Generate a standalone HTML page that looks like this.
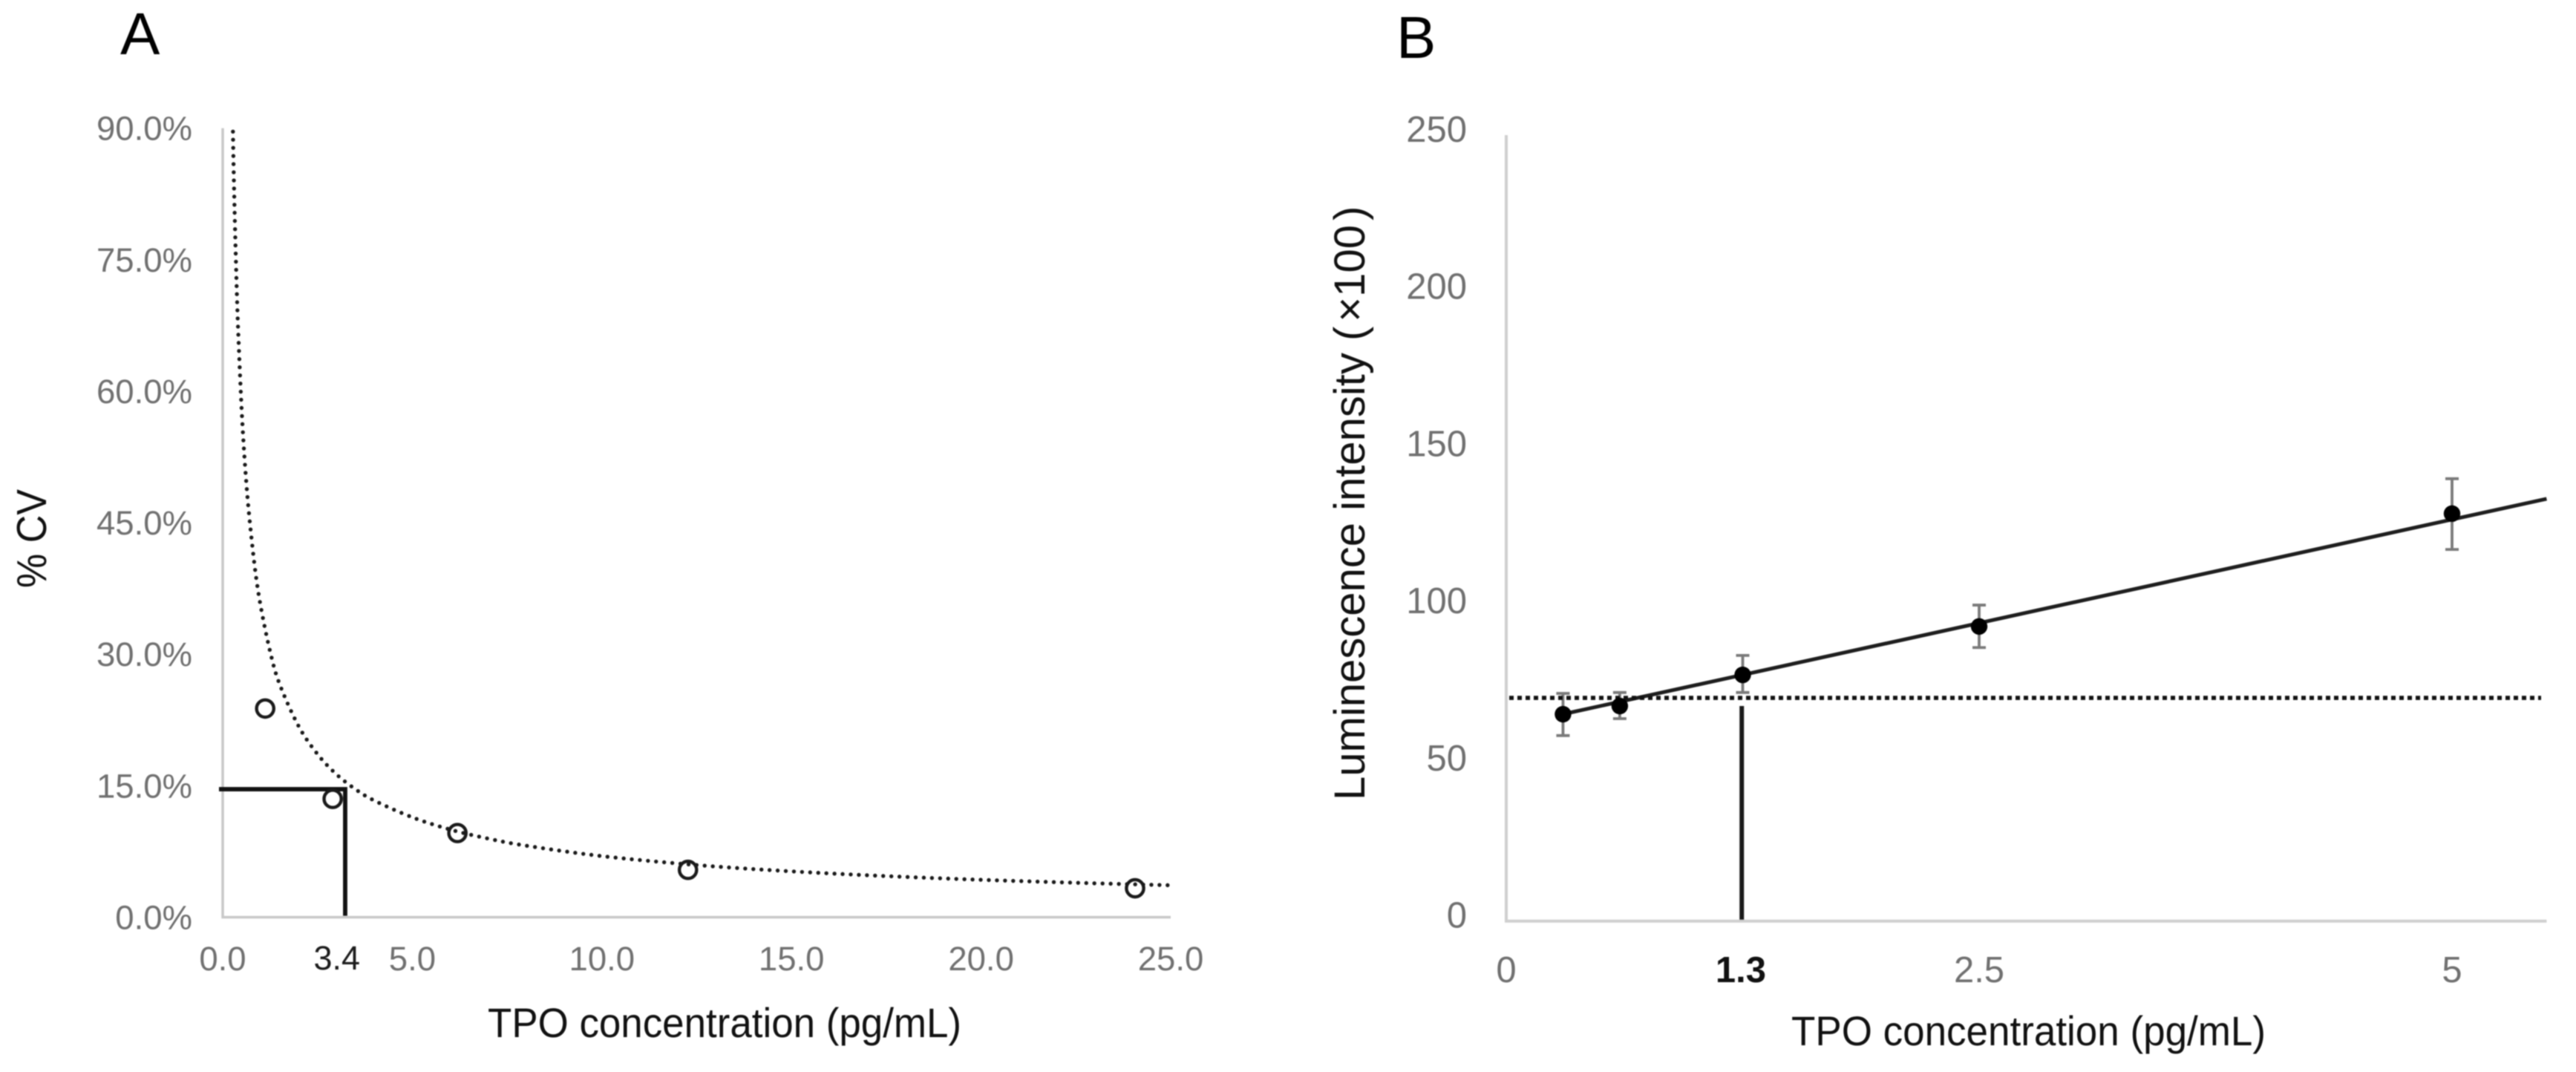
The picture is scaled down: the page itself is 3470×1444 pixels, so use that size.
<!DOCTYPE html>
<html lang="en">
<head>
<meta charset="utf-8">
<title>TPO concentration charts</title>
<style>
html,body{margin:0;padding:0;background:#fff;width:3470px;height:1444px;overflow:hidden}
svg{display:block;filter:blur(.8px)}
text{font-family:"Liberation Sans",sans-serif}
</style>
</head>
<body>
<svg id="figure" xmlns="http://www.w3.org/2000/svg" width="3470" height="1444" viewBox="0 0 3470 1444">
  <rect x="0" y="0" width="3470" height="1444" fill="#fff"/>
  <g id="panel-a">
    <text x="162" y="73" font-size="80" fill="#000">A</text>
    <text transform="translate(62 792) rotate(-90)" font-size="57" textLength="133" lengthAdjust="spacingAndGlyphs" fill="#111">% CV</text>
    <text x="657" y="1397" font-size="56" textLength="638" lengthAdjust="spacingAndGlyphs" fill="#111">TPO concentration (pg/mL)</text>
  </g>
  <g id="panel-b">
    <text x="1881" y="78" font-size="80" fill="#000">B</text>
    <text transform="translate(1838 1078) rotate(-90)" font-size="58" fill="#111">Luminescence intensity (<tspan dx="6">×100</tspan><tspan dx="6">)</tspan></text>
    <text x="2413" y="1408" font-size="56" textLength="639" lengthAdjust="spacingAndGlyphs" fill="#111">TPO concentration (pg/mL)</text>
  </g>
</svg>
<script>
/* ---------- Panel A data ---------- */
var aYTicks = [0, 15, 30, 45, 60, 75, 90];
var aYTickLabels = ['0.0%', '15.0%', '30.0%', '45.0%', '60.0%', '75.0%', '90.0%'];
var aXTicks = [0, 5, 10, 15, 20, 25];
var aXTickLabels = ['0.0', '5.0', '10.0', '15.0', '20.0', '25.0'];
var aPointConc = [1.12, 2.9, 6.19, 12.27, 24.06];
var aPointCv = [23.8, 13.5, 9.6, 5.4, 3.3];
var aTrendConc = [0.27, 0.3, 0.35, 0.4, 0.5, 0.6, 0.7, 0.85, 1, 1.25, 1.5, 2, 2.5, 3, 3.5, 4, 5, 6, 7, 8, 10, 12.5, 15, 17.5, 20, 22.5, 25];
var aTrendCv = [89.6, 83.1, 74.6, 67.8, 57.9, 50.9, 45.7, 39.8, 35.5, 30.3, 26.6, 21.8, 18.6, 16.3, 14.6, 13.3, 11.4, 10.0, 8.97, 8.16, 6.97, 5.95, 5.23, 4.69, 4.27, 3.93, 3.64];
var aLimitCv = 14.6;
var aLimitConc = 3.23;
var aLimitLabel = '3.4';
var aLimitLabelAt = 3.01;

/* ---------- Panel B data ---------- */
var bYTicks = [0, 50, 100, 150, 200, 250];
var bYTickLabels = ['0', '50', '100', '150', '200', '250'];
var bXTicks = [0, 2.5, 5];
var bXTickLabels = ['0', '2.5', '5'];
var bConc = [0.3, 0.6, 1.25, 2.5, 5];
var bMean = [65.8, 68.4, 78.3, 93.7, 129.6];
var bErrHigh = [72.4, 72.7, 84.5, 100.5, 140.7];
var bErrLow = [59, 64.4, 72.7, 87, 118.2];
var bTrendConc = [0.3, 5.5];
var bTrendValue = [65.8, 134.3];
var bCutoff = 71;
var bLodConc = 1.245;
var bLodTop = 68.4;
var bLodLabel = '1.3';
var bLodLabelAt = 1.24;

/* ---------- Axis functions ---------- */
function ax(v) { return 300 + v * 51.08; }
function ay(v) { return 1235.5 - v * 11.81; }
function bx(v) { return 2029 + v * 254.8; }
function by(v) { return 1240.7 - v * 4.235; }

var NS = 'http://www.w3.org/2000/svg';
var gA = document.getElementById('panel-a');
var gB = document.getElementById('panel-b');

function mk(parent, tag, attrs, txt) {
  var el = document.createElementNS(NS, tag);
  for (var k in attrs) { el.setAttribute(k, attrs[k]); }
  if (txt !== undefined) { el.textContent = txt; }
  parent.appendChild(el);
  return el;
}
function pathOf(xs, ys, fx, fy) {
  var d = '';
  for (var i = 0; i < xs.length; i++) {
    d += (i ? 'L' : 'M') + fx(xs[i]).toFixed(1) + ' ' + fy(ys[i]).toFixed(1);
  }
  return d;
}
function smoothOf(xs, ys, fx, fy) {
  var px = xs.map(fx), py = ys.map(fy), n = xs.length;
  var d = 'M' + px[0].toFixed(1) + ' ' + py[0].toFixed(1);
  for (var i = 0; i < n - 1; i++) {
    var a = Math.max(i - 1, 0), b = Math.min(i + 2, n - 1);
    var c1x = px[i] + (px[i + 1] - px[a]) / 6, c1y = py[i] + (py[i + 1] - py[a]) / 6;
    var c2x = px[i + 1] - (px[b] - px[i]) / 6, c2y = py[i + 1] - (py[b] - py[i]) / 6;
    d += 'C' + c1x.toFixed(1) + ' ' + c1y.toFixed(1) + ' ' + c2x.toFixed(1) + ' ' + c2y.toFixed(1) + ' ' + px[i + 1].toFixed(1) + ' ' + py[i + 1].toFixed(1);
  }
  return d;
}

/* ---------- Panel A ---------- */
var el;
el = mk(gA, 'path', {d: 'M' + ax(0) + ' ' + ay(90) + 'L' + ax(0) + ' ' + ay(0) + 'L' + ax(25) + ' ' + ay(0), fill: 'none', stroke: '#c8c8c8', 'stroke-width': 3.5});



aYTicks.forEach(function (v, i) {
  var t = mk(gA, 'text', {x: 259, y: ay(v) + 16, 'font-size': 45.5, 'text-anchor': 'end', fill: '#707070'}, aYTickLabels[i]);
  
  
});
aXTicks.forEach(function (v, i) {
  var t = mk(gA, 'text', {x: ax(v), y: 1307, 'font-size': 45.5, 'text-anchor': 'middle', fill: '#707070'}, aXTickLabels[i]);
  
  
});
el = mk(gA, 'text', {x: ax(aLimitLabelAt), y: 1306, 'font-size': 45, 'text-anchor': 'middle', fill: '#1c1c1c'}, aLimitLabel);



el = mk(gA, 'path', {d: smoothOf(aTrendConc, aTrendCv, ax, ay), fill: 'none', stroke: '#1a1a1a', 'stroke-width': 5.4, 'stroke-linecap': 'round', 'stroke-dasharray': '0 10.95'});



el = mk(gA, 'path', {d: 'M' + (ax(0) - 5) + ' ' + ay(aLimitCv) + 'L' + ax(aLimitConc) + ' ' + ay(aLimitCv) + 'L' + ax(aLimitConc) + ' ' + (ay(0) - 2), fill: 'none', stroke: '#111', 'stroke-width': 5.8});



aPointConc.forEach(function (c, i) {
  var p = mk(gA, 'circle', {cx: ax(c), cy: ay(aPointCv[i]), r: 11.6, fill: 'none', stroke: '#1a1a1a', 'stroke-width': 4.4});
  
  
});

/* ---------- Panel B ---------- */
el = mk(gB, 'path', {d: 'M' + bx(0) + ' ' + by(250) + 'L' + bx(0) + ' ' + by(0) + 'L' + bx(5.5) + ' ' + by(0), fill: 'none', stroke: '#cfcfcf', 'stroke-width': 4});



bYTicks.forEach(function (v, i) {
  var t = mk(gB, 'text', {x: 1976, y: by(v) + 9, 'font-size': 49, 'text-anchor': 'end', fill: '#707070'}, bYTickLabels[i]);
  
  
});
bXTicks.forEach(function (v, i) {
  var t = mk(gB, 'text', {x: bx(v), y: 1323, 'font-size': 49, 'text-anchor': 'middle', fill: '#707070'}, bXTickLabels[i]);
  
  
});
el = mk(gB, 'text', {x: bx(bLodLabelAt), y: 1323, 'font-size': 49, 'font-weight': 'bold', 'text-anchor': 'middle', fill: '#111'}, bLodLabel);



bConc.forEach(function (c, i) {
  var x = bx(c), hi = by(bErrHigh[i]), lo = by(bErrLow[i]);
  var e = mk(gB, 'path', {d: 'M' + x + ' ' + hi + 'L' + x + ' ' + lo + 'M' + (x - 9) + ' ' + hi + 'L' + (x + 9) + ' ' + hi + 'M' + (x - 9) + ' ' + lo + 'L' + (x + 9) + ' ' + lo, fill: 'none', stroke: '#7a7a7a', 'stroke-width': 3.8});
  
  
});

el = mk(gB, 'path', {d: pathOf(bTrendConc, bTrendValue, bx, by), fill: 'none', stroke: '#1e1e1e', 'stroke-width': 5});



el = mk(gB, 'line', {x1: bx(0) + 4, y1: by(bCutoff), x2: 3423, y2: by(bCutoff), stroke: '#111', 'stroke-width': 5.6, 'stroke-dasharray': '6 5'});



el = mk(gB, 'line', {x1: bx(bLodConc), y1: by(bLodTop), x2: bx(bLodConc), y2: by(0) - 2, stroke: '#1a1a1a', 'stroke-width': 6});



bConc.forEach(function (c, i) {
  var p = mk(gB, 'circle', {cx: bx(c), cy: by(bMean[i]), r: 11.2, fill: '#000'});
  
  
});
</script>
</body>
</html>
